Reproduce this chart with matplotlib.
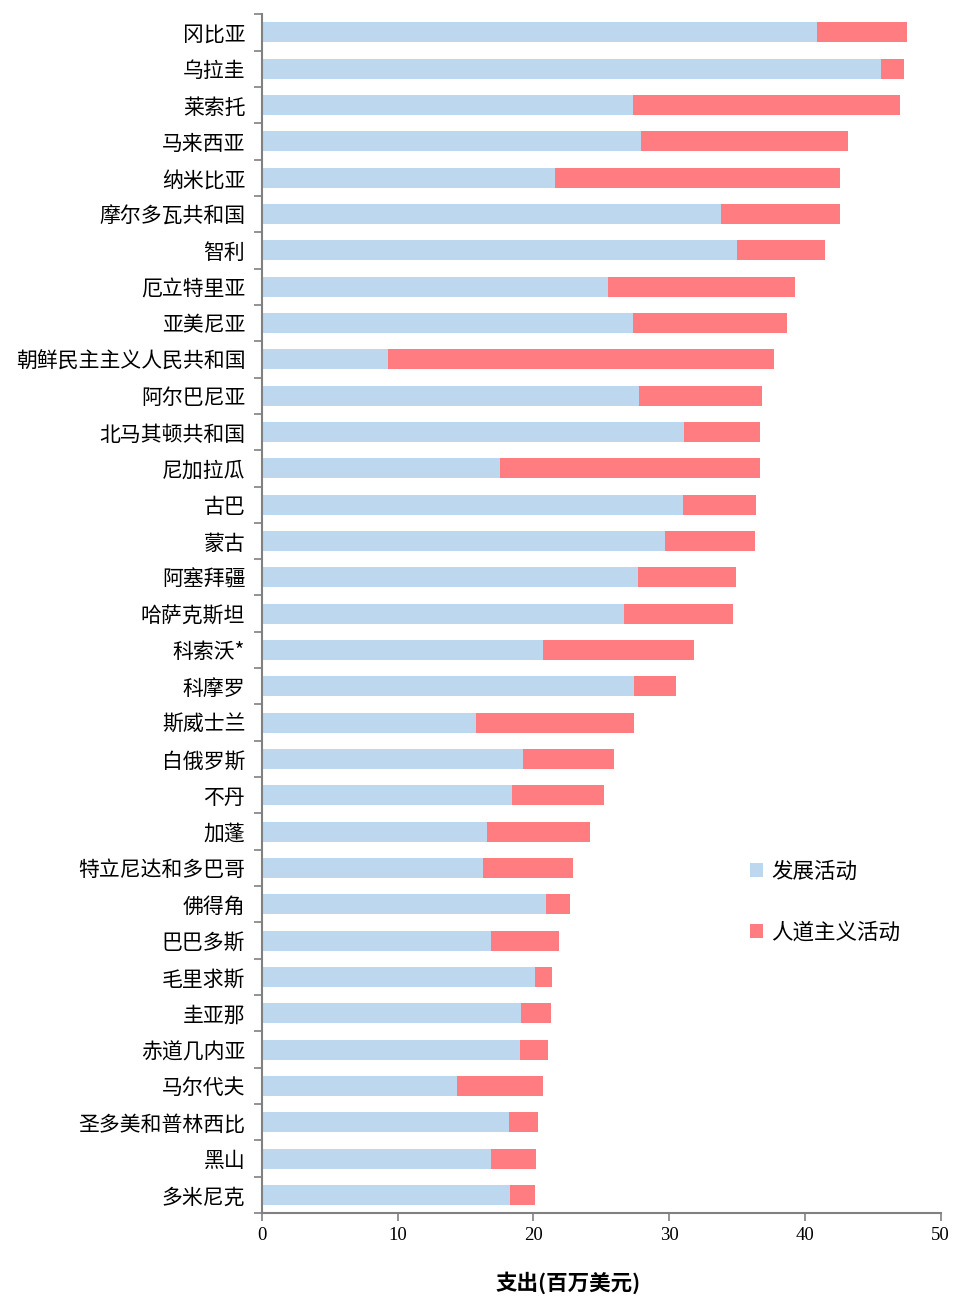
import matplotlib
matplotlib.use("Agg")
import matplotlib.pyplot as plt
import numpy as np

plt.rcParams['font.family'] = ['Liberation Serif', 'Noto Sans CJK SC']

countries = ["冈比亚", "乌拉圭", "莱索托", "马来西亚", "纳米比亚", "摩尔多瓦共和国", "智利",
             "厄立特里亚", "亚美尼亚", "朝鲜民主主义人民共和国", "阿尔巴尼亚", "北马其顿共和国",
             "尼加拉瓜", "古巴", "蒙古", "阿塞拜疆", "哈萨克斯坦", "科索沃*", "科摩罗", "斯威士兰",
             "白俄罗斯", "不丹", "加蓬", "特立尼达和多巴哥", "佛得角", "巴巴多斯", "毛里求斯",
             "圭亚那", "赤道几内亚", "马尔代夫", "圣多美和普林西比", "黑山", "多米尼克"]
# 发展活动 (blue part)
dev = [40.9, 45.6, 27.3, 27.9, 21.6, 33.8, 35.0, 25.5, 27.3, 9.3, 27.8, 31.1, 17.5, 31.0,
       29.7, 27.7, 26.7, 20.7, 27.4, 15.8, 19.2, 18.4, 16.6, 16.3, 20.9, 16.9, 20.1, 19.1,
       19.0, 14.4, 18.2, 16.9, 18.3]
# total
total = [47.5, 47.3, 47.0, 43.2, 42.6, 42.6, 41.5, 39.3, 38.7, 37.7, 36.8, 36.7, 36.7, 36.4,
         36.3, 34.9, 34.7, 31.8, 30.5, 27.4, 25.9, 25.2, 24.2, 22.9, 22.7, 21.9, 21.4, 21.3,
         21.1, 20.7, 20.3, 20.2, 20.1]
hum = [t - d for t, d in zip(total, dev)]

fig = plt.figure(figsize=(9.56, 12.96), dpi=100)
ax = fig.add_axes([0.274, 0.064, 0.71, 0.925])

y = np.arange(len(countries))
ax.barh(y, dev, height=0.55, color="#BDD7EE", label="发展活动")
ax.barh(y, hum, left=dev, height=0.55, color="#FF7C80", label="人道主义活动")

ax.set_ylim(len(countries) - 0.5, -0.5)
ax.set_xlim(0, 50)
ax.set_xticks([0, 10, 20, 30, 40, 50])
ax.set_yticks(y)
ax.set_yticklabels(countries, fontsize=15, family=['Noto Sans CJK SC'])
ax.tick_params(axis='y', length=0, pad=12)
ax.set_yticks(np.arange(len(countries) + 1) - 0.5, minor=True)
ax.tick_params(axis='y', which='minor', length=6, color='#808080', width=1.2)
ax.tick_params(axis='x', length=6, color='#808080', width=1.2, labelsize=13.5, pad=4)

for s in ['top', 'right']:
    ax.spines[s].set_visible(False)
for s in ['left', 'bottom']:
    ax.spines[s].set_color('#808080')
    ax.spines[s].set_linewidth(1.5)

fig.text(568 / 956, 1 - 1283 / 1296, "支出(百万美元)", fontsize=15.5, family=['Noto Sans CJK SC'],
         fontweight='bold', ha='center', va='center')

ax.legend(loc='upper left', bbox_to_anchor=(0.69, 0.31), frameon=False,
          prop={'family': 'Noto Sans CJK SC', 'size': 15.5},
          handlelength=0.6, handleheight=0.6, handletextpad=0.4, labelspacing=1.8)

fig.savefig("out.png", dpi=100)
